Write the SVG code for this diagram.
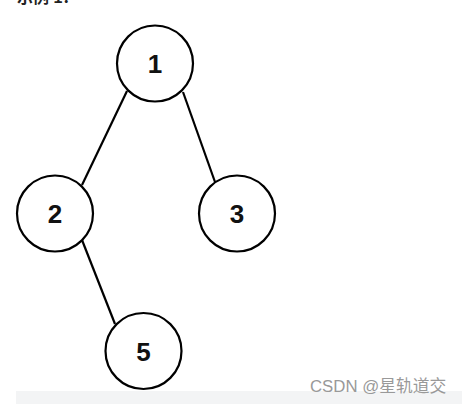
<svg xmlns="http://www.w3.org/2000/svg" width="462" height="404" viewBox="0 0 462 404">
<style>
.node circle{fill:#fff;stroke:#000;stroke-width:2.2}
.node text{font-family:"Liberation Sans",Arial,sans-serif;font-size:26px;font-weight:bold;text-anchor:middle;fill:#111}
#edges line{stroke:#000;stroke-width:2.2}
</style>
<rect width="462" height="404" fill="#fff"/>
<rect x="16" y="391" width="446" height="13" fill="#f3f4f5"/>
<text x="17" y="3" font-family="'Liberation Sans','Noto Sans CJK SC',sans-serif" font-size="16" font-weight="bold" fill="#222">示例 1：</text>
<g id="edges">
<line x1="127" y1="91" x2="82" y2="185"/>
<line x1="183" y1="92" x2="215" y2="182"/>
<line x1="82" y1="240" x2="115" y2="324"/>
</g>
<g id="n1" class="node"><circle cx="155" cy="63.5" r="38"/><text x="155" y="73">1</text></g>
<g id="n2" class="node"><circle cx="55" cy="213.5" r="38"/><text x="55" y="223">2</text></g>
<g id="n3" class="node"><circle cx="237" cy="213.5" r="38"/><text x="237" y="223">3</text></g>
<g id="n5" class="node"><circle cx="143.5" cy="351" r="38"/><text x="143.5" y="360.5">5</text></g>
<text x="310" y="392" font-family="'Liberation Sans','Noto Sans CJK SC',sans-serif" font-size="16.8" fill="#999">CSDN @星轨道交</text>
</svg>
